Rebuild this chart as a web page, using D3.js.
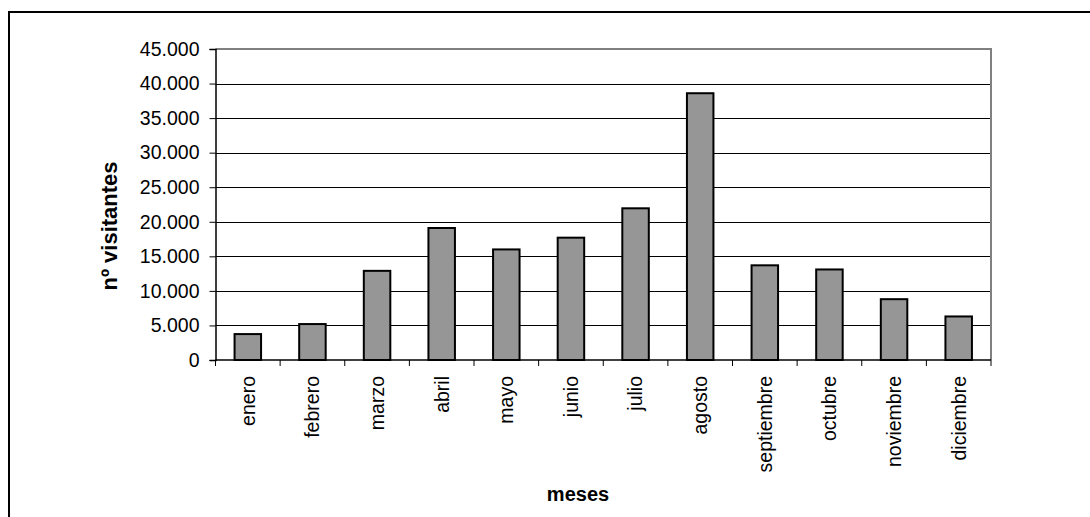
<!DOCTYPE html>
<html><head><meta charset="utf-8">
<script src="https://cdn.jsdelivr.net/npm/d3@7"></script>
<style>body{margin:0;background:#fff}svg{display:block}</style>
</head><body>
<svg id="c" width="1090" height="517"></svg>
<script>
const months = ["enero","febrero","marzo","abril","mayo","junio","julio","agosto","septiembre","octubre","noviembre","diciembre"];
const visitors = [3750, 5200, 12900, 19100, 16000, 17700, 21950, 38600, 13700, 13100, 8800, 6300];
const yTicks = [0,5000,10000,15000,20000,25000,30000,35000,40000,45000];
const yTitle = "nº visitantes";
const xTitle = "meses";

const svg = d3.select("#c");
const L = 215.5, R = 991, T = 49, B = 360;
const font = "'Liberation Sans', Arial, sans-serif";

// outer border
svg.append("rect").attr("x",9).attr("y",12).attr("width",1200).attr("height",600)
  .attr("fill","none").attr("stroke","#000").attr("stroke-width",2);

const x = d3.scaleBand().domain(months).range([L,R]).paddingInner(0).paddingOuter(0);
const y = d3.scaleLinear().domain([0,45000]).range([B,T]);

// gridlines
svg.append("g").selectAll("line").data(yTicks.filter(d=>d>0 && d<45000)).join("line")
  .attr("x1",L).attr("x2",R).attr("y1",d=>Math.round(y(d))+0.5).attr("y2",d=>Math.round(y(d))+0.5)
  .attr("stroke","#000").attr("stroke-width",1);

// plot border top/right (gray)
svg.append("path").attr("d",`M${L},${T}H${R}V${B}`).attr("fill","none")
  .attr("stroke","#808080").attr("stroke-width",2);

// bars
const bw = x.bandwidth()*0.41;
svg.append("g").selectAll("rect").data(months).join("rect")
  .attr("x",(d)=>x(d)+x.bandwidth()/2-bw/2)
  .attr("y",(d,i)=>y(visitors[i]))
  .attr("width",bw)
  .attr("height",(d,i)=>B-y(visitors[i]))
  .attr("fill","#969696").attr("stroke","#000").attr("stroke-width",2);

// y axis
const yAxis = d3.axisLeft(y).tickValues(yTicks).tickSize(6).tickPadding(10)
  .tickFormat(d=>d3.format(",")(d).replace(/,/g,"."));
const gy = svg.append("g").attr("transform",`translate(${L},0)`).call(yAxis);
gy.select(".domain").attr("stroke","#000").attr("stroke-width",1.5);
gy.selectAll(".tick line").attr("stroke","#000");
gy.selectAll("text").attr("font-family",font).attr("font-size",19.5).attr("fill","#000");

// x axis
const xAxis = d3.axisBottom(x).tickSize(0).tickSizeOuter(0);
const gx = svg.append("g").attr("transform",`translate(0,${B})`).call(xAxis);
gx.select(".domain").attr("stroke","#000").attr("stroke-width",1.5).attr("d",`M${L},0H${R}`);
gx.selectAll(".tick text")
  .attr("font-family",font).attr("font-size",19.5).attr("fill","#000")
  .attr("transform","rotate(-90)").attr("text-anchor","end")
  .attr("x",-16).attr("y",0).attr("dy","0.35em");
// boundary ticks
const bounds = months.map(m=>x(m)).concat([R]);
svg.append("g").selectAll("line").data(bounds).join("line")
  .attr("x1",d=>d).attr("x2",d=>d).attr("y1",B).attr("y2",B+6)
  .attr("stroke","#000").attr("stroke-width",1);

// titles
svg.append("text").attr("transform",`translate(117,226) rotate(-90)`)
  .attr("text-anchor","middle").attr("font-family",font).attr("font-weight","bold")
  .attr("font-size",22).text(yTitle);
svg.append("text").attr("x",578).attr("y",501)
  .attr("text-anchor","middle").attr("font-family",font).attr("font-weight","bold")
  .attr("font-size",20).text(xTitle);
</script>
</body></html>
